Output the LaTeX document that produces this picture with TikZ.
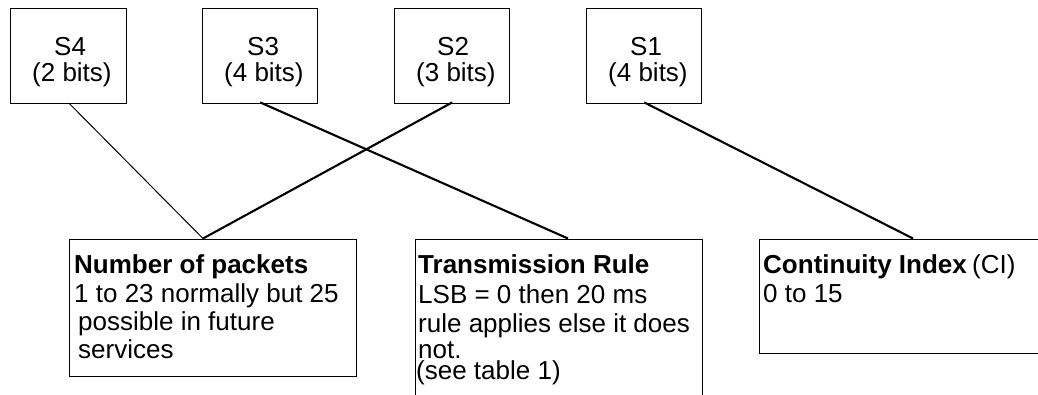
\documentclass[tikz,border=0pt]{standalone}
\usepackage{fontspec}
\setmainfont{Liberation Sans}
\begin{document}
\begin{tikzpicture}[x=1pt,y=-1pt,
  box/.style={draw=black,line width=1.4pt,rectangle,inner sep=0pt,anchor=north west},
  txt/.style={inner sep=0pt,anchor=base west,font=\fontsize{26}{28.5}\selectfont},
  thinlink/.style={line width=1pt},
  thicklink/.style={line width=2.1pt}]
\clip (0,0) rectangle (1038,394);
\fill[white] (0,0) rectangle (1038,394);

% field boxes along the top
\node[box,minimum width=116pt,minimum height=95.5pt] (s4) at (10,7.5) {};
\node[box,minimum width=115pt,minimum height=95.5pt] (s3) at (202,7.5) {};
\node[box,minimum width=115pt,minimum height=95.5pt] (s2) at (394,7.5) {};
\node[box,minimum width=115pt,minimum height=95.5pt] (s1) at (586,7.5) {};

\node[txt] (s4a) at (54,55) {S4};
\node[txt] (s4b) at (32,81) {(2 bits)};
\node[txt] (s3a) at (247,55) {S3};
\node[txt] (s3b) at (224,81) {(4 bits)};
\node[txt] (s2a) at (437,55) {S2};
\node[txt] (s2b) at (416,81) {(3 bits)};
\node[txt] (s1a) at (630,55) {S1};
\node[txt] (s1b) at (608,81) {(4 bits)};

% description boxes below
\node[box,minimum width=287pt,minimum height=137.5pt] (nop) at (69,238.5) {};
\node[box,minimum width=287pt,minimum height=200pt] (tr) at (415,238.5) {};
\node[box,minimum width=340pt,minimum height=114.5pt] (ci) at (759,238.5) {};

\node[txt] (nop1) at (74,273) {\bfseries Number of packets};
\node[txt] (nop2) at (74,302) {1 to 23 normally but 25};
\node[txt] (nop3) at (78,330) {possible in future};
\node[txt] (nop4) at (78,358) {services};

\node[txt] (tr1) at (418,273) {\bfseries Transmission Rule};
\node[txt] (tr2) at (418,303) {LSB = 0 then 20 ms};
\node[txt] (tr3) at (418,332) {rule applies else it does};
\node[txt] (tr4) at (418,358) {not.};
\node[txt] (tr5) at (416,379) {(see table 1)};

\node[txt] (ci1) at (763,273) {\bfseries Continuity Index};
\node[txt] (ci2) at (972,273) {(CI)};
\node[txt] (ci3) at (763,302) {0 to 15};

% connectors from each field to its meaning
\draw[thinlink] ([yshift=1.5pt]s4.south) -- ([xshift=134pt]nop.north west);
\draw[thicklink] ([yshift=2pt]s2.south) -- ([xshift=134pt]nop.north west);
\draw[thicklink] ([yshift=2pt]s3.south) -- ([xshift=153pt]tr.north west);
\draw[thicklink] ([yshift=2pt]s1.south) -- ([xshift=154pt]ci.north west);
\end{tikzpicture}
\end{document}
